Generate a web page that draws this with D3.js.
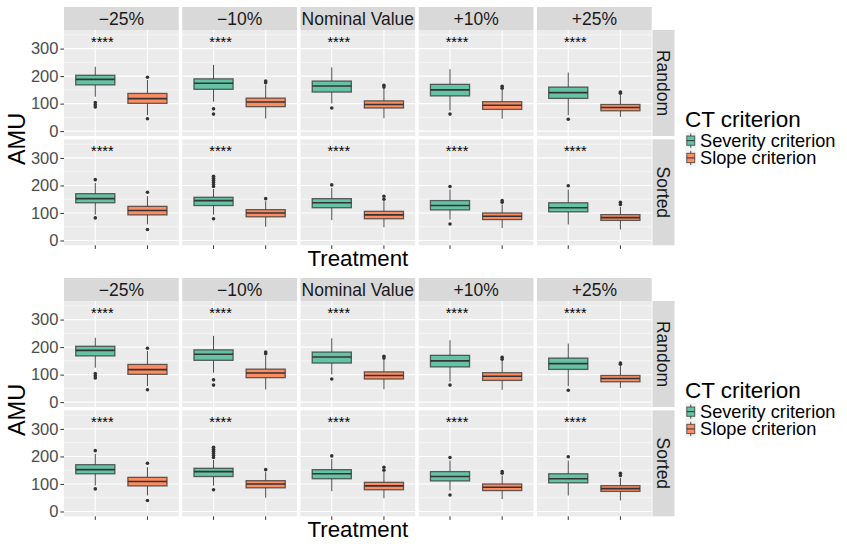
<!DOCTYPE html>
<html>
<head>
<meta charset="utf-8">
<script src="https://cdn.jsdelivr.net/npm/d3@7"></script>
<style>
  body { margin: 0; background: #fff; }
  text { font-family: "Liberation Sans", Arial, sans-serif; }
</style>
</head>
<body>
<div id="chart"></div>
<script>
var treatments = ["\u221225%", "\u221210%", "Nominal Value", "+10%", "+25%"];
var orders = ["Random", "Sorted"];
var criteria = ["Severity criterion", "Slope criterion"];
var yTicks = [0, 100, 200, 300];
var yMinor = [50, 150, 250, 350];
var signifLabel = "****";

// [lower whisker, q1, median, q3, upper whisker] per treatment
var randomSeverity = [[125, 168, 188, 203, 234], [107, 152, 174, 190, 241], [101, 142, 164, 182, 232], [75, 128, 150, 170, 225], [58, 119, 140, 160, 213]];
var randomSeverityOut = [[104, 96, 88], [81, 62], [84], [62], [43]];
var randomSlope = [[58, 101, 118, 137, 186], [46, 89, 106, 120, 168], [47, 84, 97, 110, 156], [45, 79, 94, 107, 150], [52, 74, 86, 97, 131]];
var randomSlopeOut = [[196, 45], [182, 176], [167, 160], [163, 156], [142, 138]];
var sortedSeverity = [[94, 137, 152, 170, 209], [94, 127, 145, 157, 187], [74, 119, 137, 152, 191], [76, 111, 127, 145, 185], [58, 104, 119, 137, 185]];
var sortedSeverityOut = [[221, 82], [233, 226, 219, 211, 203, 196, 79], [202], [196, 60], [199]];
var sortedSlope = [[58, 93, 109, 124, 161], [50, 86, 100, 112, 143], [48, 79, 93, 106, 143], [45, 76, 88, 100, 131], [40, 73, 83, 94, 122]];
var sortedSlopeOut = [[175, 40], [152], [161, 150], [145, 139], [139, 131]];

function init() {
    var w = 847;
    var h = 550;
    var colors = { "Severity criterion": "#66c2a5", "Slope criterion": "#fc8d62" };

    var stats = {
        "Random": { "Severity criterion": [randomSeverity, randomSeverityOut], "Slope criterion": [randomSlope, randomSlopeOut] },
        "Sorted": { "Severity criterion": [sortedSeverity, sortedSeverityOut], "Slope criterion": [sortedSlope, sortedSlopeOut] }
    };

    var svg = d3.select("#chart")
        .append("svg")
        .attr("width", w)
        .attr("height", h);

    // two copies of the same facet grid, stacked
    [0, 271].forEach(function(offset) {
        drawGrid(svg.append("g").attr("transform", "translate(0," + offset + ")"));
    });

    function drawGrid(g) {
        var colScale = d3.scaleBand()
            .domain(treatments)
            .range([64, 651.7])
            .paddingInner(0.0296);

        var rowScale = d3.scaleBand()
            .domain(orders)
            .range([30, 245.3])
            .paddingInner(0.031);

        var xScale = d3.scalePoint()
            .domain(criteria)
            .range([0, colScale.bandwidth()])
            .padding(0.6);

        var step = xScale.step();
        var boxW = step * 0.75;

        // column strips
        treatments.forEach(function(t) {
            g.append("rect")
                .attr("x", colScale(t))
                .attr("y", 7)
                .attr("width", colScale.bandwidth())
                .attr("height", 23)
                .attr("fill", "#d9d9d9");
            g.append("text")
                .attr("x", colScale(t) + colScale.bandwidth() / 2)
                .attr("y", 18.5)
                .attr("dy", "0.35em")
                .attr("text-anchor", "middle")
                .attr("font-size", "17.5px")
                .attr("fill", "#1a1a1a")
                .text(t);
        });

        orders.forEach(function(o) {
            var y0 = rowScale(o);
            var ph = rowScale.bandwidth();
            var yScale = d3.scaleLinear()
                .domain([-17.5, 367.5])
                .range([y0 + ph, y0]);

            // row strip
            g.append("rect")
                .attr("x", 652.5)
                .attr("y", y0)
                .attr("width", 22)
                .attr("height", ph)
                .attr("fill", "#d9d9d9");
            g.append("text")
                .attr("transform", "translate(663.5," + (y0 + ph / 2) + ") rotate(90)")
                .attr("dy", "0.35em")
                .attr("text-anchor", "middle")
                .attr("font-size", "17.5px")
                .attr("fill", "#1a1a1a")
                .text(o);

            // y axis
            var yAxis = d3.axisLeft(yScale)
                .tickValues(yTicks)
                .tickSize(3.6)
                .tickPadding(2);
            var ax = g.append("g")
                .attr("transform", "translate(64,0)")
                .call(yAxis);
            ax.select(".domain").remove();
            ax.selectAll("line").attr("stroke", "#333");
            ax.selectAll("text")
                .attr("font-size", "16.5px")
                .attr("fill", "#4d4d4d")
                .attr("font-family", "Liberation Sans, Arial, sans-serif");

            treatments.forEach(function(t, ti) {
                var px = colScale(t);
                var p = g.append("g").attr("transform", "translate(" + px + ",0)");

                p.append("rect")
                    .attr("x", 0)
                    .attr("y", y0)
                    .attr("width", colScale.bandwidth())
                    .attr("height", ph)
                    .attr("fill", "#ebebeb");

                p.selectAll(".minor")
                    .data(yMinor)
                    .enter().append("line")
                    .attr("x1", 0)
                    .attr("x2", colScale.bandwidth())
                    .attr("y1", function(d) { return yScale(d); })
                    .attr("y2", function(d) { return yScale(d); })
                    .attr("stroke", "#fff")
                    .attr("stroke-width", 0.55);

                p.selectAll(".major")
                    .data(yTicks)
                    .enter().append("line")
                    .attr("x1", 0)
                    .attr("x2", colScale.bandwidth())
                    .attr("y1", function(d) { return yScale(d); })
                    .attr("y2", function(d) { return yScale(d); })
                    .attr("stroke", "#fff")
                    .attr("stroke-width", 1.1);

                p.selectAll(".vmajor")
                    .data(criteria)
                    .enter().append("line")
                    .attr("x1", function(d) { return xScale(d); })
                    .attr("x2", function(d) { return xScale(d); })
                    .attr("y1", y0)
                    .attr("y2", y0 + ph)
                    .attr("stroke", "#fff")
                    .attr("stroke-width", 1.1);

                criteria.forEach(function(c) {
                    var s = stats[o][c][0][ti];
                    var outs = stats[o][c][1][ti];
                    var cx = xScale(c);

                    // whiskers
                    p.append("line")
                        .attr("x1", cx).attr("x2", cx)
                        .attr("y1", yScale(s[0])).attr("y2", yScale(s[1]))
                        .attr("stroke", "#4d4d4d")
                        .attr("stroke-width", 1);
                    p.append("line")
                        .attr("x1", cx).attr("x2", cx)
                        .attr("y1", yScale(s[3])).attr("y2", yScale(s[4]))
                        .attr("stroke", "#4d4d4d")
                        .attr("stroke-width", 1);

                    p.append("rect")
                        .attr("x", cx - boxW / 2)
                        .attr("y", yScale(s[3]))
                        .attr("width", boxW)
                        .attr("height", yScale(s[1]) - yScale(s[3]))
                        .attr("fill", colors[c])
                        .attr("stroke", "#333")
                        .attr("stroke-opacity", 0.75)
                        .attr("stroke-width", 1.3);

                    p.append("line")
                        .attr("x1", cx - boxW / 2).attr("x2", cx + boxW / 2)
                        .attr("y1", yScale(s[2])).attr("y2", yScale(s[2]))
                        .attr("stroke", "#333")
                        .attr("stroke-width", 1.6);

                    p.selectAll(".out")
                        .data(outs)
                        .enter().append("circle")
                        .attr("cx", cx)
                        .attr("cy", function(d) { return yScale(d); })
                        .attr("r", 1.8)
                        .attr("fill", "#333");
                });

                p.append("text")
                    .attr("x", xScale(criteria[0]) + 7)
                    .attr("y", yScale(334) + 7.5)
                    .attr("text-anchor", "middle")
                    .attr("font-size", "14.5px")
                    .attr("fill", "#000")
                    .text(signifLabel);

                if (o === orders[orders.length - 1]) {
                    p.selectAll(".xtick")
                        .data(criteria)
                        .enter().append("line")
                        .attr("x1", function(d) { return xScale(d); })
                        .attr("x2", function(d) { return xScale(d); })
                        .attr("y1", y0 + ph)
                        .attr("y2", y0 + ph + 3.6)
                        .attr("stroke", "#333");
                }
            });
        });

        // axis titles
        g.append("text")
            .attr("transform", "translate(25," + 139 + ") rotate(-90)")
            .attr("text-anchor", "middle")
            .attr("font-size", "23.5px")
            .attr("fill", "#000")
            .text("AMU");

        g.append("text")
            .attr("x", 357.9)
            .attr("y", 266)
            .attr("text-anchor", "middle")
            .attr("font-size", "22.3px")
            .attr("fill", "#000")
            .text("Treatment");

        // legend
        var lg = g.append("g").attr("transform", "translate(685,0)");
        lg.append("text")
            .attr("x", 0)
            .attr("y", 127)
            .attr("font-size", "22.5px")
            .attr("fill", "#000")
            .text("CT criterion");

        criteria.forEach(function(c, i) {
            var ky = 132 + i * 17.3;
            lg.append("rect")
                .attr("x", 0.5).attr("y", ky)
                .attr("width", 10.5).attr("height", 17.3)
                .attr("fill", "#f2f2f2");
            lg.append("line")
                .attr("x1", 5.75).attr("x2", 5.75)
                .attr("y1", ky + 1.5).attr("y2", ky + 15.8)
                .attr("stroke", "#4d4d4d");
            lg.append("rect")
                .attr("x", 1.8).attr("y", ky + 4)
                .attr("width", 7.9).attr("height", 9.3)
                .attr("fill", colors[c])
                .attr("stroke", "#333")
                .attr("stroke-opacity", 0.75)
                .attr("stroke-width", 1);
            lg.append("line")
                .attr("x1", 1.8).attr("x2", 9.7)
                .attr("y1", ky + 8.65).attr("y2", ky + 8.65)
                .attr("stroke", "#333")
                .attr("stroke-width", 1);
            lg.append("text")
                .attr("x", 15)
                .attr("y", ky + 15)
                .attr("font-size", "18.2px")
                .attr("fill", "#000")
                .text(c);
        });
    }
}

window.onload = init;
</script>
</body>
</html>
